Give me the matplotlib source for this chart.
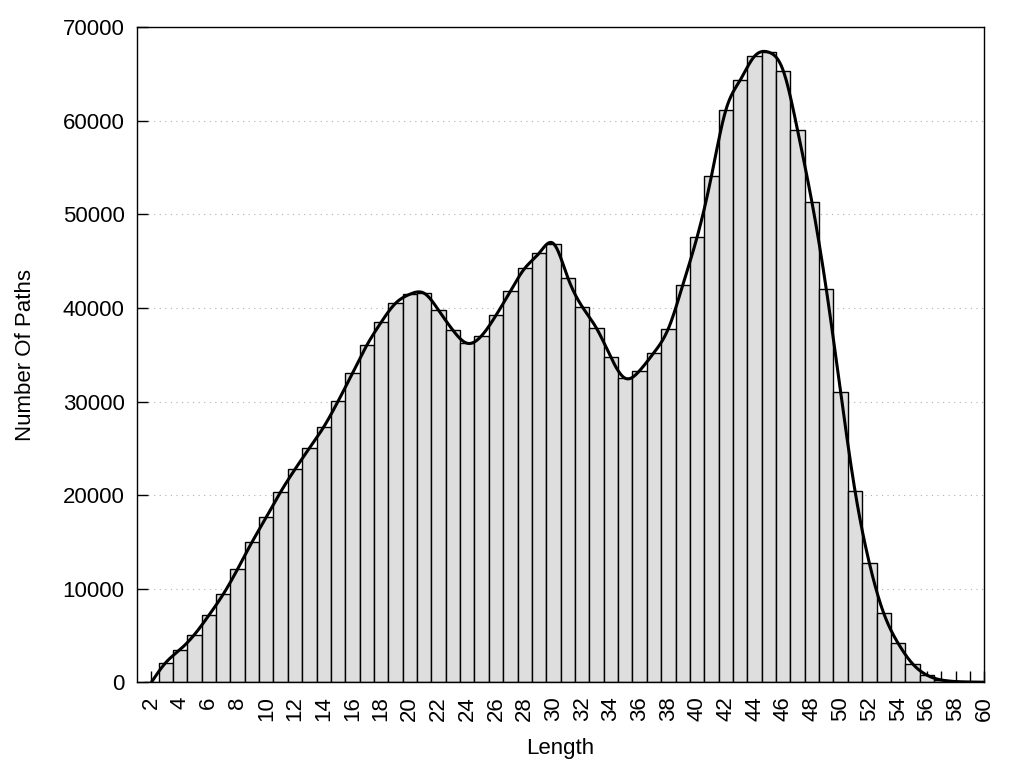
import numpy as np
import matplotlib
matplotlib.use("Agg")
import matplotlib.pyplot as plt
from matplotlib.ticker import FixedLocator

plt.rcParams['font.family'] = ['Liberation Sans', 'DejaVu Sans']

# path length histogram
lengths = list(range(2, 61))
counts = [
    0, 2100, 3500, 5100, 7150, 9400, 12080, 14960, 17630, 20340,      # 2-11
    22760, 25010, 27280, 30030, 33020, 36010, 38470, 40500, 41470, 41570,  # 12-21
    39760, 37620, 36230, 37040, 39220, 41790, 44240, 45850, 46880, 43240,  # 22-31
    40140, 37830, 34730, 32490, 33300, 35230, 37790, 42430, 47560, 54080,  # 32-41
    61130, 64340, 66900, 67330, 65360, 58990, 51300, 42000, 30990, 20440,  # 42-51
    12720, 7370, 4170, 1990, 770, 250, 80, 30, 10,                      # 52-60
]
y_ticks = list(range(0, 70001, 10000))
x_ticks = list(range(2, 61, 2))


def natural_spline(x, y, xs):
    # plain natural cubic spline, like gnuplot "smooth csplines"
    x = np.asarray(x, float)
    y = np.asarray(y, float)
    n = len(x)
    h = np.diff(x)
    A = np.zeros((n, n))
    b = np.zeros(n)
    A[0, 0] = 1
    A[-1, -1] = 1
    for i in range(1, n - 1):
        A[i, i - 1] = h[i - 1]
        A[i, i] = 2 * (h[i - 1] + h[i])
        A[i, i + 1] = h[i]
        b[i] = 6 * ((y[i + 1] - y[i]) / h[i] - (y[i] - y[i - 1]) / h[i - 1])
    M = np.linalg.solve(A, b)
    k = np.clip(np.searchsorted(x, xs) - 1, 0, n - 2)
    t0 = x[k + 1] - xs
    t1 = xs - x[k]
    hk = h[k]
    return (M[k] * t0 ** 3 / (6 * hk) + M[k + 1] * t1 ** 3 / (6 * hk)
            + (y[k] / hk - M[k] * hk / 6) * t0
            + (y[k + 1] / hk - M[k + 1] * hk / 6) * t1)


fig = plt.figure(figsize=(10.24, 7.68), dpi=100)
ax = fig.add_axes([0.1338, 0.1116, 0.8274, 0.8529])

ax.bar(lengths, counts, width=1.0, color='#dedede', edgecolor='black',
       linewidth=1.0, zorder=2)

xs = np.linspace(lengths[0], lengths[-1], 1200)
ax.plot(xs, natural_spline(lengths, counts, xs), color='black', lw=2.2,
        zorder=3, solid_capstyle='round')

ax.set_xlim(1, 60)
ax.set_ylim(0, 70000)
ax.set_xticks(x_ticks)
ax.set_xticklabels([str(v) for v in x_ticks], rotation=90)
ax.xaxis.set_minor_locator(FixedLocator(list(range(3, 60, 2))))
ax.set_yticks(y_ticks)

ax.tick_params(axis='both', which='both', direction='in', length=8, width=1,
               labelsize=16, top=False, right=False)
ax.tick_params(axis='x', which='major', pad=10)
ax.tick_params(axis='y', pad=9)

ax.set_axisbelow(True)
ax.yaxis.grid(True, linestyle=(0, (1, 4)), color='#b0b0b0', linewidth=0.8)

for s in ax.spines.values():
    s.set_linewidth(1.0)
    s.set_zorder(4)

ax.set_xlabel('Length', fontsize=16, labelpad=12)
ax.set_ylabel('Number Of Paths', fontsize=16, labelpad=19)

fig.savefig('out.png', dpi=100)
